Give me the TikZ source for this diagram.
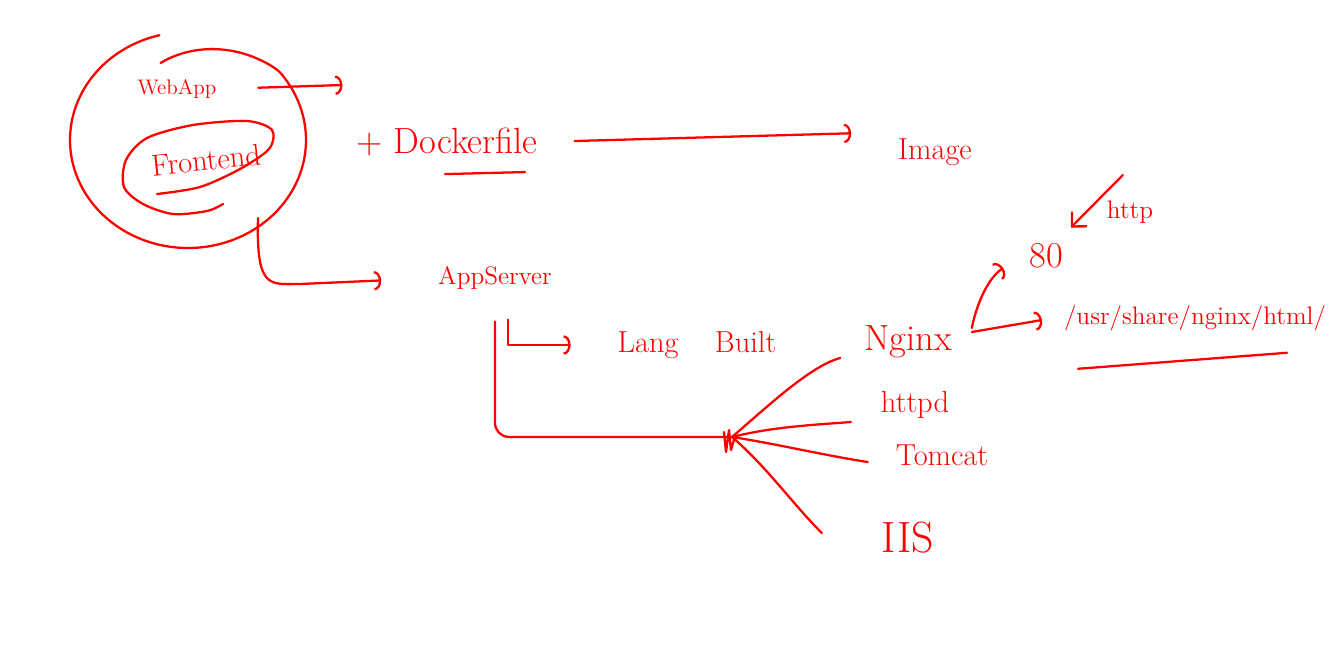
\documentclass[tikz,border=0pt]{standalone}
\usetikzlibrary{arrows.meta}

\tikzset{
  ink/.style={draw=red, line width=1.3pt, line cap=round, line join=round},
  hand/.style={text=red, font=\LARGE, inner sep=1pt},
  tip/.style={-{Arc Barb[length=4pt,width=11pt]}},
}

\begin{document}
\begin{tikzpicture}[x=0.02cm,y=-0.02cm]
                \useasboundingbox (0,0) rectangle (1344,657);

                \node[hand, font=\large] (webapp) at (177,89) {WebApp};
                \node[hand, rotate=6] (front) at (206,160) {Frontend};
                \node[hand, font=\huge] (docker) at (447,142) {+ Dockerfile};
                \node[hand] (image) at (935,152) {Image};
                \node[hand, font=\Large] (appsrv) at (495,278) {AppServer};
                \node[hand] (lang) at (697,345) {Lang\hspace{1.2em}Built};
                \node[hand, font=\huge] (nginx) at (908,342) {Nginx};
                \node[hand] (httpd) at (915,405) {httpd};
                \node[hand] (tomcat) at (942,455) {Tomcat};
                \node[hand, font=\Huge] (iis) at (908,538) {IIS};
                \node[hand, font=\huge] (port) at (1046,256) {80};
                \node[hand, font=\Large] (http) at (1130,212) {http};
                \node[hand, font=\Large] (html) at (1195,318) {/usr/share/nginx/html/};

                \coordinate (ring) at (258,218);
                \coordinate (hub) at (732,437);

                % rings round the web app
                \draw[ink] plot[domain=104:468, samples=80, smooth] ({188+118*(1-0.25*max(0,(\x-400)/68))*cos(\x)}, {140-108*(1-0.25*max(0,(\x-400)/68))*sin(\x)});
                \draw[ink] plot[smooth] coordinates {(157,194) (200,187) (240,169) (269,149) (272,130) (247,121) (193,125) (147,138) (126,160) (124,187) (143,204) (173,214) (207,211) (223,204)};

                \draw[ink, tip, shorten <=0.8cm] (webapp.east) -- ([shift={(124,-4)}]webapp.east);
                \draw[ink, tip, shorten <=0.7cm, shorten >=0.9cm] (docker.east) -- ([yshift=0.4cm]image.west);
                \draw[ink] ([shift={(-2,16)}]docker.south) -- ([shift={(78,14)}]docker.south);
                \draw[ink, tip, shorten >=1.1cm] (ring) .. controls (256,290) and (270,284) .. (300,284) -- (appsrv.west);

                \draw[ink, tip, shorten >=0.9cm] ([shift={(13,28)}]appsrv.south) |- (lang.west);
                \draw[ink, rounded corners=8] ([yshift=-0.6cm]appsrv.south) |- (hub);
                \draw[ink] (724,432) -- (726,452) -- (729,430) -- (731,450) -- (735,436);

                \draw[ink] (hub) .. controls +(35,-30) and +(-30,8) .. ([shift={(-22,16)}]nginx.west);
                \draw[ink] (hub) .. controls +(40,-10) and +(-40,3) .. ([shift={(-28,17)}]httpd.west);
                \draw[ink] (hub) .. controls +(40,6) and +(-40,-6) .. ([shift={(-26,7)}]tomcat.west);
                \draw[ink] (hub) .. controls +(35,30) and +(-30,-30) .. ([shift={(-58,-5)}]iis.west);

                \draw[ink, tip] ([shift={(18,-14)}]nginx.east) .. controls +(5,-25) and +(-15,10) .. ([shift={(-24,12)}]port.west);
                \draw[ink, tip] ([shift={(18,-10)}]nginx.east) -- ([shift={(-20,2)}]html.west);
                \draw[ink] ([shift={(-117,36)}]html.south) -- ([shift={(92,20)}]html.south);
                \draw[ink, -{Straight Barb[length=6pt,width=12pt]}] ([shift={(18,-37)}]http.west) -- ([shift={(6,-14)}]port.north east);
            \end{tikzpicture}
\end{document}
